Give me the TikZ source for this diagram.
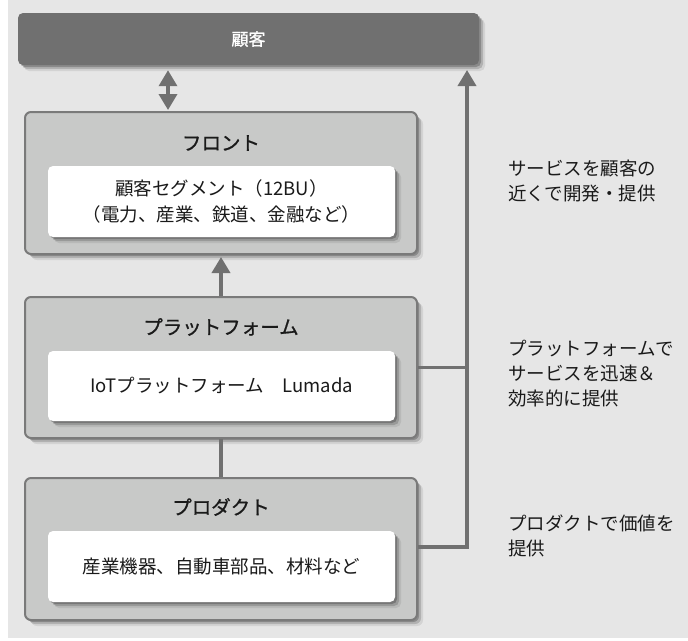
\documentclass[tikz,border=0pt]{standalone}
\usepackage{fontspec}
\setmainfont{Noto Sans CJK JP}
\newfontfamily\titlefont[FakeBold=0.9]{Noto Sans CJK JP}
\usetikzlibrary{arrows.meta,shadows}
\definecolor{bgc}{HTML}{E6E6E6}
\definecolor{barc}{HTML}{707070}
\definecolor{boxc}{HTML}{C8C9C8}
\definecolor{edgec}{HTML}{7A7A7A}
\definecolor{linec}{HTML}{707070}
\definecolor{txtc}{HTML}{1A1A1A}
\tikzset{
  softshadow/.style={
    drop shadow={shadow xshift=2pt,shadow yshift=-2pt,opacity=0.22,fill=black},
    drop shadow={shadow xshift=4pt,shadow yshift=-4pt,opacity=0.16,fill=black},
    drop shadow={shadow xshift=6pt,shadow yshift=-6pt,opacity=0.08,fill=black}},
  topbar/.style={rectangle,rounded corners=5pt,fill=barc,draw=none,softshadow,
    minimum width=461pt,minimum height=52pt,inner sep=0pt,text=white,
    font=\fontsize{17}{20}\titlefont},
  layerbox/.style={rectangle,rounded corners=6pt,fill=boxc,draw=edgec,line width=2pt,
    softshadow,minimum width=392pt,inner sep=0pt},
  innerbox/.style={rectangle,rounded corners=5pt,fill=white,draw=none,softshadow,
    minimum width=347pt,inner sep=0pt,align=center,text=txtc,
    font=\fontsize{18.5}{26}\selectfont},
  titletext/.style={text=txtc,font=\fontsize{19.5}{24}\titlefont,inner sep=0pt},
  sidetext/.style={anchor=north west,align=left,text=txtc,inner sep=0pt,
    font=\fontsize{18.5}{25}\selectfont},
  conn/.style={draw=linec,line width=3.5pt},
  tip/.tip={Triangle[width=18pt,length=16pt]},
}
\begin{document}
\begin{tikzpicture}[x=1pt,y=-1pt]
\useasboundingbox (0,0) rectangle (688,640);
\fill[bgc] (8,0) rectangle (688,638);

\node[topbar] (top) at (248.5,39) {顧客};

\node[layerbox,minimum height=142pt] (front) at (221,183) {};
\node[titletext] (fronttitle) at (221,143) {フロント};
\node[innerbox,minimum height=71pt] (frontin) at (221.5,201.5) {顧客セグメント（12BU）\\（電力、産業、鉄道、金融など）};

\node[layerbox,minimum height=141pt] (plat) at (221,367.5) {};
\node[titletext] (plattitle) at (221,327) {プラットフォーム};
\node[innerbox,minimum height=70pt] (platin) at (221.5,386) {IoTプラットフォーム　Lumada};

\node[layerbox,minimum height=142pt] (prod) at (221,549) {};
\node[titletext] (prodtitle) at (221,507) {プロダクト};
\node[innerbox,minimum height=71pt] (prodin) at (221.5,566.5) {産業機器、自動車部品、材料など};

% connectors
\draw[conn,{tip}-{tip}] ([xshift=-80.5pt,yshift=-5pt]top.south) -- ([xshift=-53pt,yshift=1pt]front.north);
\draw[conn,-{tip},shorten >=2pt] (plat.north) -- (front.south);
\draw[conn] (plat.south) -- (prod.north);

\coordinate (rbot) at (467,547);
\coordinate (rmid) at (467,367.5);
\coordinate (rtop) at (467,70);
\draw[conn,-{tip}] ([yshift=2pt]prod.east) -- (rbot) -- (rtop);
\draw[conn] (plat.east) -- (rmid);

% side texts
\node[sidetext] (s1) at (508,160) {サービスを顧客の\\近くで開発・提供};
\node[sidetext] (s2) at (508,340) {プラットフォームで\\サービスを迅速＆\\効率的に提供};
\node[sidetext] (s3) at (508,515) {プロダクトで価値を\\提供};
\end{tikzpicture}
\end{document}
